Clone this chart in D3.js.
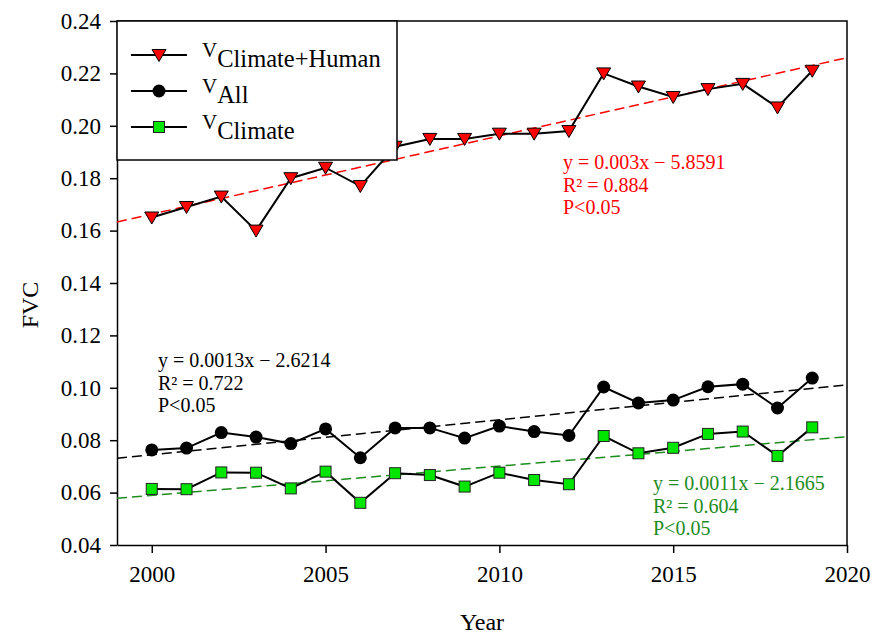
<!DOCTYPE html>
<html>
<head>
<meta charset="utf-8">
<script src="https://cdn.jsdelivr.net/npm/d3@7"></script>
<style>
  html, body { margin: 0; padding: 0; background: #fff; }
  svg, svg text { font-family: 'Liberation Serif', 'Times New Roman', serif; }
  svg { display: block; }
</style>
</head>
<body>
<svg id="chart" width="872" height="635"></svg>
<script>
// ---------- data ----------
const years = [2000, 2001, 2002, 2003, 2004, 2005, 2006, 2007, 2008, 2009,
               2010, 2011, 2012, 2013, 2014, 2015, 2016, 2017, 2018, 2019];
const vClimateHuman = [0.165, 0.169, 0.173, 0.160, 0.180, 0.184, 0.177, 0.192, 0.195, 0.195,
                       0.197, 0.197, 0.198, 0.220, 0.215, 0.211, 0.214, 0.216, 0.207, 0.221];
const vAll = [0.0763, 0.0770, 0.0829, 0.0812, 0.0787, 0.0843, 0.0733, 0.0847, 0.0847, 0.0808,
              0.0854, 0.0833, 0.0818, 0.1003, 0.0942, 0.0953, 0.1004, 0.1014, 0.0923, 0.1037];
const vClimate = [0.0614, 0.0613, 0.0677, 0.0676, 0.0616, 0.0680, 0.0561, 0.0674, 0.0667, 0.0623,
                  0.0676, 0.0648, 0.0632, 0.0816, 0.0750, 0.0771, 0.0824, 0.0833, 0.0740, 0.0849];
// trend-line end values at x = 1999 and x = 2020
const trendYears = [1999, 2020];
const trendClimateHuman = [0.1633, 0.2260];
const trendAll = [0.0731, 0.1011];
const trendClimate = [0.0578, 0.0813];
const xTicks = [2000, 2005, 2010, 2015, 2020];
const yTicks = [0.04, 0.06, 0.08, 0.10, 0.12, 0.14, 0.16, 0.18, 0.20, 0.22, 0.24];
const eqClimateHuman = ["y = 0.003x \u2212 5.8591", "R\u00B2 = 0.884", "P<0.05"];
const eqAll = ["y = 0.0013x \u2212 2.6214", "R\u00B2 = 0.722", "P<0.05"];
const eqClimate = ["y = 0.0011x \u2212 2.1665", "R\u00B2 = 0.604", "P<0.05"];
const legendSubs = ["Climate+Human", "All", "Climate"];

// ---------- layout ----------
const svg = d3.select("#chart");
const FONT = "'Liberation Serif', 'Times New Roman', serif";
const L = 117, R = 847, T = 21, B = 545;
const x = d3.scaleLinear().domain([1999, 2020]).range([L, R]);
const y = d3.scaleLinear().domain([0.04, 0.24]).range([B, T]);

const RED = "#ff0000", GREEN_TXT = "#1e8c1e", GREEN_FILL = "#00e600";

// axes
const xAxis = svg.append("g").attr("transform", `translate(0,${B})`)
  .call(d3.axisBottom(x).tickValues(xTicks).tickFormat(d3.format("d")).tickSizeInner(8).tickSizeOuter(0).tickPadding(13));
const yAxis = svg.append("g").attr("transform", `translate(${L},0)`)
  .call(d3.axisLeft(y).tickValues(yTicks).tickFormat(d3.format(".2f")).tickSizeInner(7).tickSizeOuter(0).tickPadding(9));
[xAxis, yAxis].forEach(g => {
  g.attr("font-family", FONT).attr("font-size", 23);
  g.selectAll("path").attr("stroke", "#000").attr("stroke-width", 1.5);
  g.selectAll("line").attr("stroke", "#000").attr("stroke-width", 1.5);
  g.selectAll("text").attr("fill", "#000").attr("font-family", FONT).attr("font-size", 23);
});
// frame top & right
svg.append("path").attr("d", `M${L},${T}H${R}V${B}`).attr("fill", "none")
  .attr("stroke", "#000").attr("stroke-width", 1.5);

// axis titles
svg.append("text").attr("x", (L + R) / 2).attr("y", 630).attr("text-anchor", "middle")
  .attr("font-family", FONT).attr("font-size", 24).text("Year");
svg.append("text").attr("transform", "translate(38,305) rotate(-90)").attr("text-anchor", "middle")
  .attr("font-family", FONT).attr("font-size", 24).text("FVC");

// trend lines
function trend(vals, color) {
  svg.append("line")
    .attr("x1", x(trendYears[0])).attr("y1", y(vals[0]))
    .attr("x2", x(trendYears[1])).attr("y2", y(vals[1]))
    .attr("stroke", color).attr("stroke-width", 1.5).attr("stroke-dasharray", "10,5");
}
trend(trendClimateHuman, RED);
trend(trendAll, "#000");
trend(trendClimate, GREEN_TXT);

// series lines
const line = d3.line().x((d, i) => x(years[i])).y(d => y(d));
[vClimateHuman, vAll, vClimate].forEach(vals => {
  svg.append("path").datum(vals).attr("d", line).attr("fill", "none")
    .attr("stroke", "#000").attr("stroke-width", 2);
});

// markers
const triPath = "M-7,-5.5L7,-5.5L0,6.5Z";
function drawTri(g, cx, cy) {
  g.append("path").attr("d", triPath).attr("transform", `translate(${cx},${cy})`)
    .attr("fill", RED).attr("stroke", "#000").attr("stroke-width", 1);
}
function drawCirc(g, cx, cy) {
  g.append("circle").attr("cx", cx).attr("cy", cy).attr("r", 6.5).attr("fill", "#000");
}
function drawSq(g, cx, cy) {
  g.append("rect").attr("x", cx - 5.5).attr("y", cy - 5.5).attr("width", 11).attr("height", 11)
    .attr("fill", GREEN_FILL).attr("stroke", "#222").attr("stroke-width", 1);
}
const mk = svg.append("g");
vClimateHuman.forEach((v, i) => drawTri(mk, x(years[i]), y(v)));
vAll.forEach((v, i) => drawCirc(mk, x(years[i]), y(v)));
vClimate.forEach((v, i) => drawSq(mk, x(years[i]), y(v)));

// equations
function eq(lines, x0, y0, color) {
  lines.forEach((t, i) => {
    svg.append("text").attr("x", x0).attr("y", y0 + i * 22.5).attr("fill", color)
      .attr("font-family", FONT).attr("font-size", 20).text(t);
  });
}
eq(eqClimateHuman, 563, 169, RED);
eq(eqAll, 158, 367, "#000");
eq(eqClimate, 653, 490, GREEN_TXT);

// legend
const lg = svg.append("g");
lg.append("rect").attr("x", L).attr("y", T).attr("width", 397 - L).attr("height", 160 - T)
  .attr("fill", "#fff").attr("stroke", "#000").attr("stroke-width", 1.5);
const rowsY = [55, 91, 127];
const drawers = [drawTri, drawCirc, drawSq];
rowsY.forEach((ry, i) => {
  lg.append("line").attr("x1", 131).attr("x2", 187).attr("y1", ry).attr("y2", ry)
    .attr("stroke", "#000").attr("stroke-width", 2);
  drawers[i](lg, 159, ry);
  const t = lg.append("text").attr("x", 202).attr("y", ry + 2)
    .attr("font-family", FONT).attr("font-size", 21);
  t.append("tspan").text("V");
  t.append("tspan").attr("dy", 10).attr("font-size", 24.5).text(legendSubs[i]);
});
</script>
</body>
</html>
